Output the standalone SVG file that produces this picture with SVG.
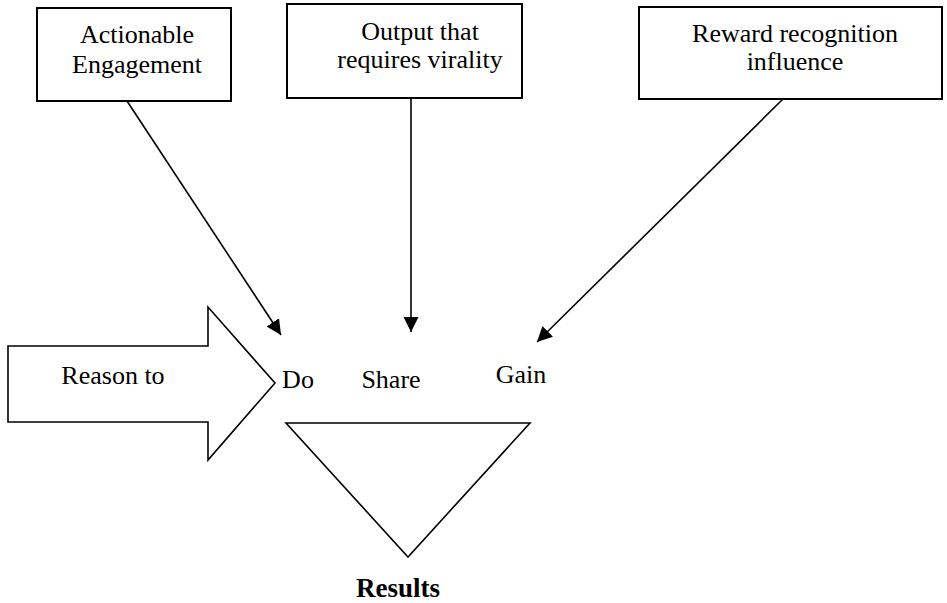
<svg xmlns="http://www.w3.org/2000/svg" width="947" height="603" viewBox="0 0 947 603">
<style>
.box{fill:#fff;stroke:#000;stroke-width:2}
.shape{fill:#fff;stroke:#000;stroke-width:1.6;stroke-linejoin:miter}
.t{font-family:"Liberation Serif","Times New Roman",serif;font-size:26px;fill:#000;text-anchor:middle}
.b{font-weight:bold;font-size:27px}
.con{stroke:#000;stroke-width:1.6;fill:none;marker-end:url(#ah)}
</style>
<defs>
<marker id="ah" viewBox="0 0 10 10" refX="10" refY="5" markerUnits="userSpaceOnUse" markerWidth="15" markerHeight="16" orient="auto">
<path d="M0,0 L10,5 L0,10 Z" fill="#000"/>
</marker>
</defs>
<rect width="947" height="603" fill="#fff"/>
<g id="box-actionable">
<rect class="box" x="37" y="8" width="194" height="93"/>
<text class="t" x="137" y="43">Actionable</text>
<text class="t" x="137" y="73">Engagement</text>
</g>
<g id="box-output">
<rect class="box" x="287" y="4" width="235" height="94"/>
<text class="t" x="420" y="40">Output that</text>
<text class="t" x="420" y="68">requires virality</text>
</g>
<g id="box-reward">
<rect class="box" x="639" y="7" width="303" height="92"/>
<text class="t" x="795" y="42">Reward recognition</text>
<text class="t" x="795" y="70">influence</text>
</g>
<g id="reason-arrow">
<polygon class="shape" points="8,346 208,346 208,307 275,383 208,460 208,422 8,422"/>
<text class="t" x="113" y="384">Reason to</text>
</g>
<g id="do"><text class="t" x="298" y="388">Do</text></g>
<g id="share"><text class="t" x="391" y="388">Share</text></g>
<g id="gain"><text class="t" x="521" y="383">Gain</text></g>
<g id="results-funnel">
<polygon class="shape" points="286,423 530,423 408,557"/>
<text class="t b" x="398" y="597">Results</text>
</g>
<g id="connectors">
<line class="con" x1="127" y1="101" x2="281" y2="335"/>
<line class="con" x1="411" y1="98" x2="411" y2="332"/>
<line class="con" x1="783" y1="99" x2="537" y2="342"/>
</g>
</svg>
